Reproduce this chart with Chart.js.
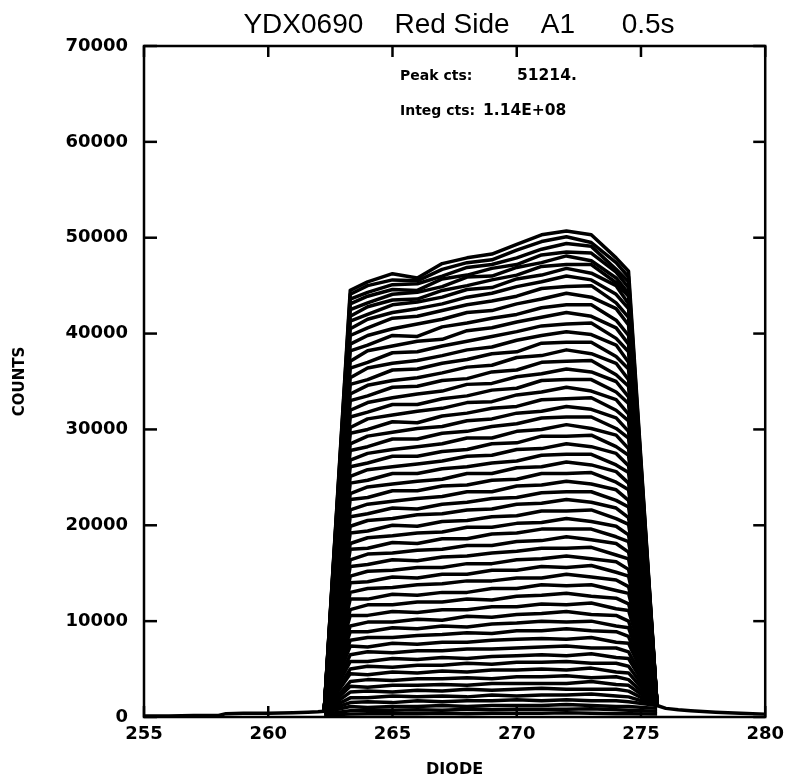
<!DOCTYPE html>
<html>
<head>
<meta charset="utf-8">
<script src="https://cdn.jsdelivr.net/npm/chart.js@4.4.1/dist/chart.umd.min.js"></script>
<style>
html, body { margin: 0; padding: 0; background: #fff; }
</style>
</head>
<body>
<canvas id="lineChart" width="791" height="781"></canvas>
<script>
// diode positions shared by every exposure
var diodes = [262.25, 263.3, 264, 265, 266, 267, 268, 269, 270, 271, 272, 273, 274, 274.5, 275.65];
var xTicks = [255, 260, 265, 270, 275, 280];
var yTicks = [0, 10000, 20000, 30000, 40000, 50000, 60000, 70000];

// low tails outside the illuminated diodes
var floorLeftX  = [255, 256, 257, 258, 258.3, 259, 260, 261, 261.6, 262.0, 262.25];
var floorLeftY  = [100, 100, 150, 150, 350, 400, 400, 450, 500, 550, 600];
var floorRightX = [275.65, 276, 276.5, 277, 278, 279, 280];
var floorRightY = [1200, 900, 750, 650, 500, 400, 300];

// counts per exposure, one row per curve (top to bottom)
var spectra = [
  [600, 44500, 45400, 46250, 45800, 47300, 47900, 48300, 49300, 50300, 50700, 50300, 47900, 46500, 1200],
  [600, 44100, 45000, 45600, 45500, 46700, 47400, 47700, 48700, 49600, 50100, 49500, 47400, 45900, 1200],
  [600, 43600, 44300, 45100, 45200, 46000, 46900, 47200, 47900, 48800, 49400, 49100, 46700, 45400, 1200],
  [600, 43100, 43900, 44600, 44500, 45700, 46100, 46800, 47200, 48200, 48500, 48400, 46400, 44800, 1200],
  [600, 42500, 43200, 44100, 44300, 44900, 45900, 46000, 46900, 47400, 48100, 47600, 45800, 44200, 1200],
  [600, 41800, 42800, 43500, 43600, 44500, 45000, 45600, 46100, 47000, 47200, 47200, 45300, 43900, 1200],
  [600, 41300, 42000, 43000, 43300, 43800, 44600, 44800, 45700, 46100, 46800, 46300, 45000, 43100, 1200],
  [600, 40500, 41500, 42200, 42600, 43100, 43800, 44200, 44900, 45400, 46000, 45600, 44100, 42600, 1200],
  [600, 39800, 40600, 41600, 41800, 42400, 43000, 43400, 43900, 44700, 44900, 45000, 43200, 41700, 1200],
  [600, 38900, 39800, 40500, 41000, 41500, 42200, 42400, 43100, 43600, 44200, 43800, 42600, 40900, 1200],
  [600, 38200, 38800, 39800, 39700, 40700, 41100, 41600, 42000, 42700, 43000, 43000, 41400, 39800, 1200],
  [600, 37100, 38200, 38700, 39200, 39400, 40300, 40600, 41200, 41700, 42200, 41800, 40600, 38900, 1200],
  [600, 36400, 37000, 38000, 38100, 38700, 39200, 39700, 40200, 40800, 41000, 41100, 39500, 38100, 1200],
  [600, 35400, 36400, 36900, 37200, 37700, 38300, 38600, 39300, 39800, 40200, 39900, 38800, 37000, 1200],
  [600, 34700, 35200, 36200, 36300, 36900, 37300, 37900, 38100, 39000, 39100, 39100, 37600, 36300, 1200],
  [600, 33700, 34600, 35100, 35400, 35900, 36500, 36700, 37500, 37700, 38300, 37900, 36900, 35200, 1200],
  [600, 33000, 33500, 34400, 34500, 35100, 35300, 36000, 36200, 37000, 37100, 37200, 35700, 34500, 1200],
  [600, 32000, 32800, 33300, 33700, 34000, 34700, 34800, 35500, 35800, 36300, 36000, 35000, 33400, 1200],
  [600, 31300, 31800, 32600, 32600, 33200, 33500, 34100, 34300, 35100, 35200, 35200, 33900, 32700, 1200],
  [600, 30200, 31100, 31500, 31900, 32200, 32800, 32900, 33600, 33900, 34400, 34000, 33100, 31600, 1200],
  [600, 29600, 30000, 30800, 30700, 31400, 31700, 32200, 32400, 33100, 33200, 33300, 32000, 30900, 1200],
  [600, 28500, 29300, 29700, 30100, 30300, 30900, 31100, 31700, 31900, 32400, 32100, 31200, 29800, 1200],
  [600, 27800, 28200, 29000, 29000, 29600, 29800, 30300, 30600, 31200, 31300, 31300, 30100, 29100, 1200],
  [600, 26800, 27500, 27900, 28200, 28500, 29100, 29100, 29800, 30000, 30500, 30100, 29400, 28000, 1200],
  [600, 26100, 26500, 27200, 27200, 27700, 27900, 28500, 28600, 29300, 29300, 29400, 28200, 27300, 1200],
  [600, 25100, 25800, 26100, 26400, 26700, 27200, 27300, 27900, 28000, 28500, 28200, 27500, 26200, 1200],
  [600, 24400, 24700, 25400, 25400, 25900, 26100, 26500, 26700, 27300, 27400, 27400, 26300, 25500, 1200],
  [600, 23300, 24000, 24300, 24600, 24800, 25400, 25400, 26000, 26100, 26600, 26300, 25600, 24400, 1200],
  [600, 22700, 22900, 23600, 23600, 24100, 24200, 24700, 24800, 25400, 25400, 25500, 24500, 23700, 1200],
  [600, 21600, 22200, 22500, 22800, 23000, 23500, 23500, 24100, 24200, 24600, 24300, 23700, 22600, 1200],
  [600, 20900, 21200, 21800, 21700, 22200, 22400, 22800, 22900, 23400, 23500, 23500, 22600, 21900, 1200],
  [600, 19900, 20500, 20700, 21100, 21200, 21600, 21700, 22200, 22300, 22700, 22400, 21800, 20800, 1200],
  [600, 19200, 19400, 20000, 19900, 20400, 20500, 20900, 21000, 21500, 21500, 21600, 20700, 20100, 1200],
  [600, 18100, 18700, 18900, 19200, 19300, 19800, 19800, 20200, 20300, 20700, 20400, 19900, 19000, 1200],
  [600, 17500, 17600, 18200, 18100, 18600, 18600, 19100, 19200, 19600, 19600, 19600, 18800, 18300, 1200],
  [600, 16400, 17000, 17100, 17400, 17500, 17900, 17900, 18300, 18400, 18800, 18500, 18100, 17200, 1200],
  [600, 15700, 15900, 16400, 16300, 16700, 16800, 17100, 17300, 17600, 17600, 17700, 16900, 16500, 1200],
  [600, 14700, 15200, 15300, 15600, 15600, 16000, 16000, 16400, 16500, 16800, 16500, 16200, 15400, 1200],
  [600, 14000, 14100, 14600, 14500, 14900, 14900, 15300, 15300, 15700, 15600, 15800, 15100, 14700, 1200],
  [600, 13000, 13400, 13500, 13800, 13900, 14200, 14200, 14500, 14500, 14900, 14600, 14300, 13600, 1200],
  [600, 12300, 12300, 12800, 12700, 13000, 13000, 13400, 13400, 13800, 13700, 13800, 13200, 12900, 1200],
  [600, 11200, 11700, 11700, 12000, 12000, 12300, 12200, 12600, 12700, 12900, 12600, 12400, 11800, 1200],
  [600, 10600, 10600, 11000, 10900, 11200, 11200, 11500, 11500, 11800, 11700, 11900, 11300, 11100, 1200],
  [600, 9500, 9900, 9900, 10200, 10100, 10500, 10400, 10700, 10800, 11000, 10700, 10600, 10000, 1200],
  [600, 8900, 8900, 9300, 9200, 9500, 9400, 9700, 9800, 10000, 9900, 10000, 9500, 9300, 1200],
  [600, 8000, 8300, 8300, 8500, 8600, 8800, 8700, 9000, 9000, 9200, 9000, 8900, 8400, 1200],
  [600, 7400, 7300, 7700, 7600, 7800, 7800, 8000, 8100, 8200, 8100, 8300, 7800, 7700, 1200],
  [600, 6500, 6800, 6700, 6900, 6900, 7100, 7100, 7200, 7300, 7400, 7200, 7200, 6800, 1200],
  [600, 5800, 5800, 6100, 6000, 6200, 6100, 6300, 6400, 6500, 6400, 6600, 6200, 6100, 1200],
  [600, 5000, 5300, 5200, 5400, 5400, 5600, 5500, 5700, 5700, 5800, 5600, 5600, 5300, 1200],
  [600, 4500, 4400, 4700, 4600, 4800, 4700, 4900, 4900, 5000, 4900, 5100, 4700, 4600, 1200],
  [600, 3700, 3900, 3800, 4000, 4000, 4100, 4000, 4200, 4200, 4300, 4100, 4200, 3900, 1200],
  [600, 3200, 3100, 3300, 3300, 3400, 3300, 3500, 3500, 3500, 3500, 3700, 3400, 3300, 1200],
  [600, 2600, 2700, 2600, 2800, 2700, 2900, 2800, 2900, 3000, 2900, 2900, 2900, 2700, 1200],
  [600, 2000, 2000, 2200, 2100, 2200, 2100, 2300, 2200, 2300, 2300, 2400, 2200, 2100, 1200],
  [600, 1500, 1600, 1500, 1700, 1600, 1700, 1700, 1800, 1700, 1800, 1700, 1700, 1600, 1200],
  [500, 1100, 1000, 1100, 1100, 1200, 1100, 1200, 1200, 1200, 1300, 1200, 1100, 1100, 900],
  [300, 650, 700, 700, 750, 700, 800, 750, 800, 800, 800, 850, 750, 700, 600],
  [200, 300, 350, 350, 350, 400, 350, 400, 400, 400, 450, 400, 350, 350, 300]
];

var titleText = 'YDX0690    Red Side    A1      0.5s';
var peakCts = '51214.';
var integCts = '1.14E+08';

function pairs(xs, ys) {
  return ys.map(function (v, i) { return { x: xs[i], y: v } });
}

function curve(points) {
  return {
    data: points,
    borderColor: '#000',
    borderWidth: 3.5,
    pointRadius: 0,
    tension: 0,
    fill: false,
    borderJoinStyle: 'round'
  }
}

var datasets = spectra.map(function (row) { return curve(pairs(diodes, row)) });
datasets.push(curve(pairs(floorLeftX, floorLeftY)));
datasets.push(curve(pairs(floorRightX, floorRightY)));

var tickFont = { family: 'DejaVu Sans', weight: 'bold', size: 18 };

function seg(ctx, x1, y1, x2, y2) {
  ctx.beginPath(); ctx.moveTo(x1, y1); ctx.lineTo(x2, y2); ctx.stroke();
}

var framePlugin = {
  id: 'frame',
  afterDatasetsDraw: function (chart) {
    var ctx = chart.ctx, a = chart.chartArea;
    var sx = chart.scales.x, sy = chart.scales.y;
    ctx.save();
    ctx.strokeStyle = '#000';
    ctx.lineWidth = 2.5;
    ctx.strokeRect(a.left, a.top, a.right - a.left, a.bottom - a.top);
    yTicks.forEach(function (v) {
      var y = sy.getPixelForValue(v);
      seg(ctx, a.left, y, a.left + 13, y);
      seg(ctx, a.right, y, a.right - 12, y);
    });
    xTicks.forEach(function (v) {
      var x = sx.getPixelForValue(v);
      seg(ctx, x, a.bottom, x, a.bottom - 11);
      seg(ctx, x, a.top, x, a.top + 11);
    });
    ctx.restore();
  },
  afterDraw: function (chart) {
    var ctx = chart.ctx;
    ctx.save();
    ctx.fillStyle = '#000';
    ctx.textBaseline = 'alphabetic';
    ctx.textAlign = 'center';
    ctx.font = '28px "Liberation Sans"';
    ctx.fillText(titleText, 459, 33);
    ctx.textAlign = 'left';
    ctx.font = 'bold 14px "DejaVu Sans"';
    ctx.fillText('Peak cts:', 400, 80);
    ctx.fillText('Integ cts:', 400, 115);
    ctx.font = 'bold 15.5px "DejaVu Sans"';
    ctx.fillText(peakCts, 517, 80);
    ctx.fillText(integCts, 483, 115);
    ctx.restore();
  }
};

var lineChartCanvas = document.getElementById('lineChart').getContext('2d');
var lineChart = new Chart(lineChartCanvas, {
  type: 'line',
  data: { datasets: datasets },
  plugins: [framePlugin],
  options: {
    responsive: false,
    animation: false,
    devicePixelRatio: 1,
    layout: { padding: { top: 46, right: 19, bottom: 0, left: 0 } },
    plugins: { legend: { display: false }, tooltip: { enabled: false }, title: { display: false } },
    scales: {
      x: {
        type: 'linear',
        min: 255,
        max: 280,
        afterBuildTicks: function (s) { s.ticks = xTicks.map(function (v) { return { value: v } }) },
        ticks: { color: '#000', font: tickFont, padding: 7, maxRotation: 0, autoSkip: false, callback: function (v) { return String(v) } },
        grid: { display: false, drawTicks: false },
        border: { display: false },
        title: { display: true, text: 'DIODE', color: '#000', font: { family: 'DejaVu Sans', weight: 'bold', size: 16 }, padding: { top: 0, bottom: 2 } },
        afterFit: function (s) { s.height = 64 }
      },
      y: {
        type: 'linear',
        min: 0,
        max: 70000,
        afterBuildTicks: function (s) { s.ticks = yTicks.map(function (v) { return { value: v } }) },
        ticks: { color: '#000', font: tickFont, padding: 16, callback: function (v) { return String(v) } },
        grid: { display: false, drawTicks: false },
        border: { display: false },
        title: { display: true, text: 'COUNTS', color: '#000', font: { family: 'DejaVu Sans', weight: 'bold', size: 15 }, padding: { top: 11, bottom: 0 } },
        afterFit: function (s) { s.width = 144 }
      }
    }
  }
});
</script>
</body>
</html>
